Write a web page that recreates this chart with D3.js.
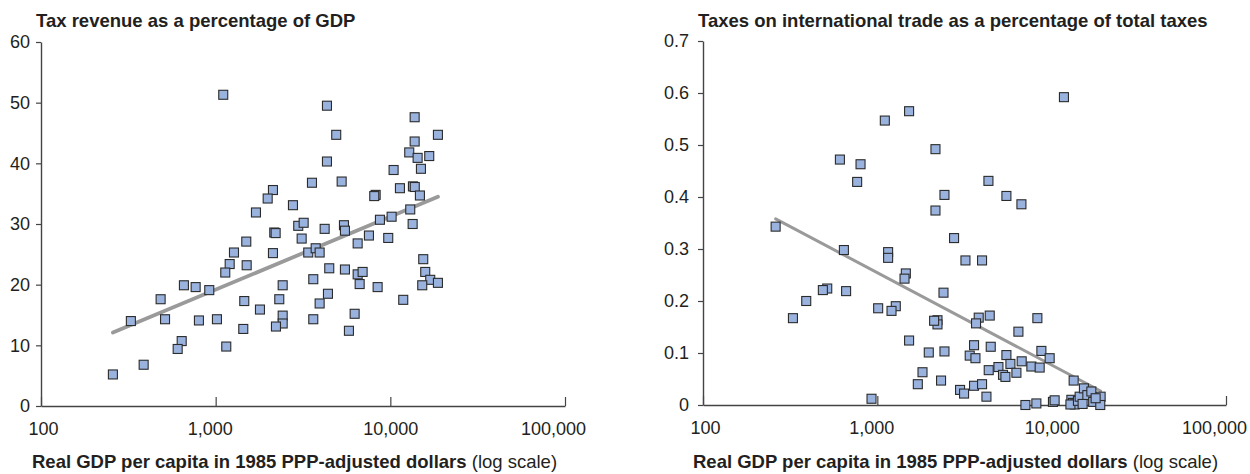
<!DOCTYPE html>
<html>
<head>
<meta charset="utf-8">
<script src="https://cdn.jsdelivr.net/npm/d3@7/dist/d3.min.js"></script>
<style>
  html, body { margin: 0; padding: 0; background: #fff; }
  svg text { font-family: "Liberation Sans", Arial, Helvetica, sans-serif; fill: #231f20; }
</style>
</head>
<body>
<svg id="chart" width="1250" height="474"></svg>
<script>
// Tax revenue (% of GDP) against real GDP per capita (1985 PPP dollars)
const revenueGdp = [1105, 4337, 13780, 4900, 18730, 13780, 12830, 14330, 16700, 4337,
  10440, 14970, 3559, 5264, 2128, 1985, 2770, 1701, 8240, 8090,
  11350, 13470, 13800, 14770, 13000, 10170, 8720, 13420, 2165, 2205,
  2970, 3190, 4207, 5426, 5497, 3107, 1497, 7542, 9727, 6500,
  1273, 2128, 3389, 3737, 3938, 1203, 1505, 1135, 4470, 5497,
  6500, 6940, 3621, 6674, 8458, 15430, 15840, 16920, 15230, 18730,
  658, 768, 919, 2419, 484, 1458, 2313, 4394, 3938, 11855,
  327, 513, 802, 1017, 1793, 2419, 2419, 2214, 3621, 6247,
  1439, 5794, 639, 606, 1150, 387, 258];
const revenueShare = [51.3, 49.5, 47.6, 44.7, 44.7, 43.6, 41.8, 40.9, 41.2, 40.3,
  38.9, 39.1, 36.8, 37.0, 35.6, 34.2, 33.1, 31.9, 34.8, 34.6,
  35.9, 36.2, 36.1, 34.7, 32.4, 31.2, 30.7, 30.0, 28.6, 28.5,
  29.7, 30.2, 29.2, 29.8, 28.9, 27.6, 27.1, 28.1, 27.7, 26.8,
  25.3, 25.2, 25.3, 26.0, 25.3, 23.4, 23.2, 22.0, 22.7, 22.5,
  21.7, 22.1, 20.9, 20.1, 19.6, 24.2, 22.1, 20.8, 19.9, 20.3,
  19.9, 19.6, 19.1, 19.9, 17.6, 17.3, 17.6, 18.5, 16.9, 17.5,
  14.0, 14.3, 14.1, 14.3, 15.9, 14.9, 13.6, 13.1, 14.3, 15.2,
  12.7, 12.4, 10.7, 9.4, 9.8, 6.8, 5.2];
const revenueFitGdp = [258, 18730];
const revenueFitShare = [12.1, 34.5];
const revenueTicks = [0, 10, 20, 30, 40, 50, 60];

// Trade taxes as a share of total taxes against real GDP per capita
const tradeGdp = [11760, 1521, 1104, 2155, 610, 801, 766, 4338, 2427, 5500,
  6707, 2155, 261, 2755, 643, 1153, 1153, 3202, 3987, 1457,
  1432, 2396, 516, 487, 662, 391, 328, 1011, 1276, 1206,
  2213, 2213, 2117, 3816, 3683, 4413, 8279, 6445, 1521, 3587,
  4472, 1973, 2427, 3388, 3654, 8730, 9739, 5500, 5799, 6730,
  7650, 8534, 4950, 4355, 5259, 5428, 6277, 1816, 1707, 2320,
  2982, 3144, 3587, 3987, 4225, 926, 13370, 7070, 8170, 10170,
  10400, 12970, 13240, 13550, 12810, 14150, 14470, 15310, 16020, 16890,
  17300, 19090, 19000, 15050, 17870];
const tradeShare = [0.592, 0.565, 0.547, 0.492, 0.472, 0.463, 0.429, 0.431, 0.404, 0.402,
  0.386, 0.374, 0.343, 0.321, 0.298, 0.294, 0.283, 0.278, 0.278, 0.253,
  0.243, 0.216, 0.224, 0.221, 0.219, 0.200, 0.167, 0.186, 0.190, 0.181,
  0.163, 0.155, 0.162, 0.168, 0.157, 0.172, 0.167, 0.141, 0.124, 0.115,
  0.112, 0.101, 0.103, 0.095, 0.090, 0.104, 0.090, 0.096, 0.079, 0.084,
  0.074, 0.072, 0.073, 0.067, 0.058, 0.054, 0.062, 0.063, 0.040, 0.047,
  0.029, 0.022, 0.037, 0.040, 0.016, 0.012, 0.047, 0.000, 0.003, 0.006,
  0.009, 0.010, 0.004, 0.001, 0.001, 0.008, 0.016, 0.032, 0.019, 0.026,
  0.006, 0.016, 0.000, 0.002, 0.013];
const tradeFitGdp = [261, 19090];
const tradeFitShare = [0.358, 0.027];
const tradeTicks = [0, 0.1, 0.2, 0.3, 0.4, 0.5, 0.6, 0.7];

const gdpTicks = [100, 1000, 10000, 100000];
const xTitleBold = "Real GDP per capita in 1985 PPP-adjusted dollars";
const xTitleNote = " (log scale)";

// small horizontal nudges for the log-axis labels, in the order of gdpTicks
const gdpLabelNudge = [2, -6, 0, -12];

const svg = d3.select("#chart");

function panel(opts) {
  const g = svg.append("g");
  const x = d3.scaleLog().domain([100, 100000]).range([opts.left, opts.right]);
  const y = d3.scaleLinear().domain([0, opts.yMax]).range([opts.bottom, opts.top]);

  // y axis
  const yAxis = g.append("g")
    .attr("transform", `translate(${opts.left},0)`)
    .call(d3.axisLeft(y).tickValues(opts.yTicks).tickFormat(opts.yFormat)
      .tickSizeInner(5).tickSizeOuter(0).tickPadding(opts.yPad));
  // x axis, ticks pointing up into the plot
  const xAxis = g.append("g")
    .attr("transform", `translate(0,${opts.bottom})`)
    .call(d3.axisBottom(x).tickValues(gdpTicks).tickFormat(d3.format(","))
      .tickSizeInner(-9).tickSizeOuter(0).tickPadding(16));
  xAxis.selectAll(".tick text").attr("dx", (d, i) => gdpLabelNudge[i]);

  [yAxis, xAxis].forEach(a => {
    a.selectAll("path.domain").attr("stroke", "#444").attr("stroke-width", 1.4);
    a.selectAll(".tick line").attr("stroke", "#444").attr("stroke-width", 1.2);
    a.selectAll(".tick text").attr("font-size", 18).attr("fill", "#231f20")
      .attr("font-family", "Liberation Sans, Arial, sans-serif");
  });

  // fitted trend
  const fit = opts.fitX.map((v, i) => [v, opts.fitY[i]]);
  g.append("path")
    .datum(fit)
    .attr("d", d3.line().x(d => x(d[0])).y(d => y(d[1])))
    .attr("fill", "none")
    .attr("stroke", "#9a9a9a")
    .attr("stroke-width", opts.fitWidth)
    .attr("stroke-linecap", "round");

  // country markers
  const pts = opts.xs.map((v, i) => [v, opts.ys[i]]);
  const s = 9;
  g.append("g").selectAll("rect")
    .data(pts)
    .join("rect")
    .attr("x", d => x(d[0]) - s / 2)
    .attr("y", d => y(d[1]) - s / 2)
    .attr("width", s)
    .attr("height", s)
    .attr("fill", "#99b2de")
    .attr("stroke", "#2b2b2b")
    .attr("stroke-width", 1.1);

  // chart title
  g.append("text")
    .attr("x", opts.titleX)
    .attr("y", 27)
    .attr("font-size", 18.5)
    .attr("font-weight", "bold")
    .text(opts.title);

  // x axis title
  const t = g.append("text")
    .attr("x", opts.xTitleX)
    .attr("y", 468)
    .attr("font-size", 18.5);
  t.append("tspan").attr("font-weight", "bold").text(xTitleBold);
  t.append("tspan").text(xTitleNote);
}

panel({
  left: 41, right: 565, top: 42, bottom: 406,
  yMax: 60, yTicks: revenueTicks, yFormat: d3.format("d"), yPad: 6,
  xs: revenueGdp, ys: revenueShare,
  fitX: revenueFitGdp, fitY: revenueFitShare, fitWidth: 3.8,
  title: "Tax revenue as a percentage of GDP", titleX: 36, xTitleX: 32
});

panel({
  left: 703, right: 1226, top: 41, bottom: 405,
  yMax: 0.7, yTicks: tradeTicks, yFormat: d3.format(".1~f"), yPad: 9,
  xs: tradeGdp, ys: tradeShare,
  fitX: tradeFitGdp, fitY: tradeFitShare, fitWidth: 3,
  title: "Taxes on international trade as a percentage of total taxes", titleX: 698, xTitleX: 693
});
</script>
</body>
</html>
